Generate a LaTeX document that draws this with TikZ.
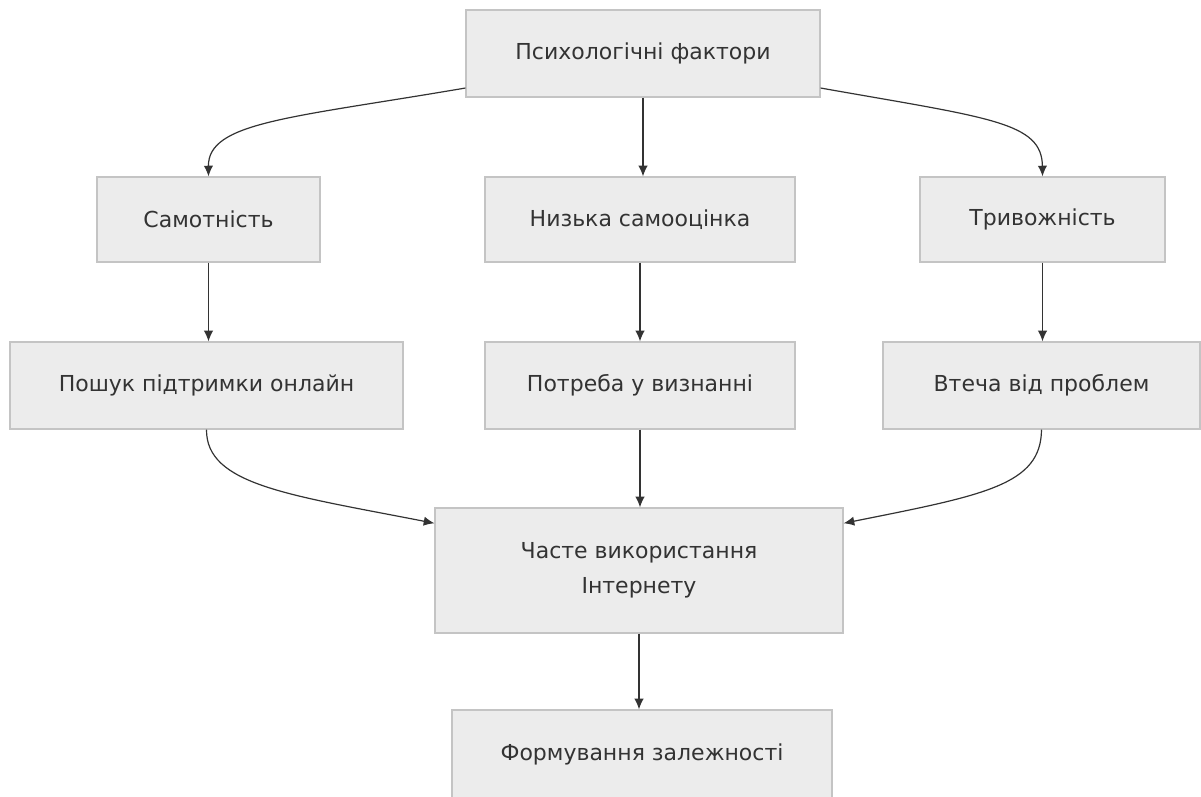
\documentclass[tikz,border=0pt]{standalone}
\usepackage{fontspec}
\setmainfont{DejaVu Sans}
\usepackage{tikz}
\usetikzlibrary{arrows.meta}
\definecolor{boxfill}{HTML}{ECECEC}
\definecolor{boxline}{HTML}{C4C4C4}
\definecolor{inkgrey}{HTML}{333333}
\tikzset{
    factor/.style={draw=boxline, fill=boxfill, line width=0.9pt, text=inkgrey,
        font=\fontsize{16.5}{20}\selectfont, align=center, inner sep=0pt},
    link/.style={draw=inkgrey, line width=0.9pt, -{Latex[length=8pt,width=7pt]}}}
\begin{document}
\begin{tikzpicture}[x=0.75pt, y=-0.75pt]
            \useasboundingbox (0,0) rectangle (1201,796);

                    \node[factor, minimum width=265.5pt, minimum height=65.25pt] (psy) at (643,53.5) {Психологічні фактори};
                    \node[factor, minimum width=167.25pt, minimum height=63.75pt] (sam) at (208.5,219.5) {Самотність};
                    \node[factor, minimum width=232.5pt, minimum height=63.75pt] (niz) at (640,219.5) {Низька самооцінка};
                    \node[factor, minimum width=183.75pt, minimum height=63.75pt] (tryv) at (1042.5,219.5) {Тривожність};
                    \node[factor, minimum width=294.75pt, minimum height=65.25pt] (posh) at (206.5,385.5) {Пошук підтримки онлайн};
                    \node[factor, minimum width=232.5pt, minimum height=65.25pt] (potr) at (640,385.5) {Потреба у визнанні};
                    \node[factor, minimum width=237.75pt, minimum height=65.25pt] (vtech) at (1041.5,385.5) {Втеча від проблем};
                    \node[factor, minimum width=306pt, minimum height=93.75pt] (chas) at (639,570.5) {Часте використання\\[6pt] Інтернету};
                    \node[factor, minimum width=285pt, minimum height=66pt] (form) at (642,754) {Формування залежності};

                    \draw[link] (psy.191) .. controls (290,118) and (208,122) .. (sam.north);
                    \draw[link] (psy.south) -- (psy.south |- niz.north);
                    \draw[link] (psy.349) .. controls (990,118) and (1042,122) .. (tryv.north);
                    \draw[link] (sam.south) -- (sam.south |- posh.north);
                    \draw[link] (niz.south) -- (potr.north);
                    \draw[link] (tryv.south) -- (tryv.south |- vtech.north);
                    \draw[link] (posh.south) .. controls (206,485) and (290,495) .. (chas.167);
                    \draw[link] (potr.south) -- (potr.south |- chas.north);
                    \draw[link] (vtech.south) .. controls (1041,485) and (985,495) .. (chas.13);
                    \draw[link] (chas.south) -- (chas.south |- form.north);

                \end{tikzpicture}
\end{document}
